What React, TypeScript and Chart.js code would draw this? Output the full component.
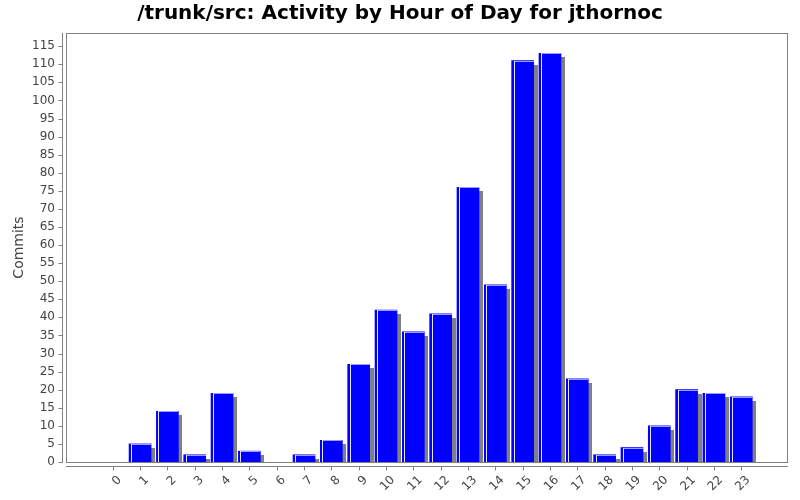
import React, { useEffect, useRef } from "react";
import { Chart, registerables } from "chart.js";

Chart.register(...registerables);

const hours: number[] = [0, 1, 2, 3, 4, 5, 6, 7, 8, 9, 10, 11, 12, 13, 14, 15, 16, 17, 18, 19, 20, 21, 22, 23];
const commits: number[] = [0, 5, 14, 2, 19, 3, 0, 2, 6, 27, 42, 36, 41, 76, 49, 111, 113, 23, 2, 4, 10, 20, 19, 18];
const yTickValues: number[] = [0, 5, 10, 15, 20, 25, 30, 35, 40, 45, 50, 55, 60, 65, 70, 75, 80, 85, 90, 95, 100, 105, 110, 115];

const TITLE = "/trunk/src: Activity by Hour of Day for jthornoc";
const Y_TITLE = "Commits";
const FONT = "'DejaVu Sans', sans-serif";

const decorPlugin = {
  id: "decor",
  beforeDatasetsDraw(chart: any) {
    const ctx = chart.ctx;
    const meta = chart.getDatasetMeta(0);
    ctx.save();
    ctx.fillStyle = "#808080";
    meta.data.forEach((bar: any) => {
      const p = bar.getProps(["x", "y", "base", "width"], true);
      const h = p.base - p.y - 4;
      if (h >= 1) {
        ctx.fillRect(Math.round(p.x - p.width / 2 + 4), Math.round(p.y + 4), Math.round(p.width), Math.round(h));
      }
    });
    ctx.restore();
  },
  afterDatasetsDraw(chart: any) {
    const ctx = chart.ctx;
    const meta = chart.getDatasetMeta(0);
    ctx.save();
    meta.data.forEach((bar: any) => {
      const p = bar.getProps(["x", "y", "base", "width"], true);
      const h = p.base - p.y;
      if (h >= 1) {
        const left = Math.round(p.x - p.width / 2);
        ctx.fillStyle = "#e6e6ff";
        ctx.fillRect(left + 2, Math.round(p.y), 1, Math.round(h));
        ctx.fillStyle = "#9a9aff";
        ctx.fillRect(left + 3, Math.round(p.y), Math.round(p.width) - 3, 1);
      }
    });
    ctx.restore();
  },
  afterDraw(chart: any) {
    const ctx = chart.ctx;
    const a = chart.chartArea;
    const xs = chart.scales.x;
    const ys = chart.scales.y;
    ctx.save();
    ctx.strokeStyle = "#808080";
    ctx.lineWidth = 1;
    ctx.strokeRect(Math.round(a.left) + 0.5, Math.round(a.top) + 0.5, Math.round(a.right - a.left) - 1, Math.round(a.bottom - a.top));
    const yx = Math.round(a.left) - 4 + 0.5;
    ctx.beginPath();
    ctx.moveTo(yx, Math.round(a.top));
    ctx.lineTo(yx, Math.round(a.bottom) + 1);
    yTickValues.forEach((v) => {
      const py = Math.round(ys.getPixelForValue(v)) + 0.5;
      ctx.moveTo(yx - 4, py);
      ctx.lineTo(yx, py);
    });
    const xy = Math.round(a.bottom) + 4 + 0.5;
    ctx.moveTo(Math.round(a.left), xy);
    ctx.lineTo(Math.round(a.right), xy);
    hours.forEach((v) => {
      const px = Math.round(xs.getPixelForValue(v)) + 0.5;
      ctx.moveTo(px, xy);
      ctx.lineTo(px, xy + 4);
    });
    ctx.stroke();
    ctx.restore();
  },
};

export default function App() {
  const ref = useRef<HTMLCanvasElement | null>(null);
  useEffect(() => {
    if (!ref.current) return;
    const chart = new Chart(ref.current, {
      type: "bar",
      data: {
        datasets: [
          {
            label: Y_TITLE,
            data: hours.map((h, i) => ({ x: h, y: commits[i] === 0 ? null : commits[i] })),
            backgroundColor: "#0000ff",
            borderWidth: 0,
            barThickness: 22,
          },
        ],
      },
      options: {
        responsive: false,
        animation: false,
        devicePixelRatio: 1,
        layout: { padding: 0 },
        plugins: {
          legend: { display: false },
          tooltip: { enabled: false },
          title: {
            display: true,
            text: TITLE,
            color: "#000000",
            font: { family: FONT, size: 20, weight: "bold" },
            padding: { top: 2, bottom: 7 },
          },
        },
        scales: {
          x: {
            type: "linear",
            offset: false,
            min: -1.71,
            max: 24.71,
            afterBuildTicks: (s: any) => {
              s.ticks = hours.map((v) => ({ value: v }));
            },
            afterFit: (s: any) => {
              s.height = 38;
            },
            grid: { display: false, drawTicks: false, offset: false },
            border: { display: false },
            ticks: {
              autoSkip: false,
              minRotation: 45,
              maxRotation: 45,
              padding: 11,
              labelOffset: 7,
              color: "#444444",
              font: { family: FONT, size: 12 },
              callback: (v: any) => String(v),
            },
          },
          y: {
            min: 0,
            max: 118.65,
            afterBuildTicks: (s: any) => {
              s.ticks = yTickValues.map((v) => ({ value: v }));
            },
            afterFit: (s: any) => {
              s.width = 66;
            },
            grid: { display: false, drawTicks: false },
            border: { display: false },
            ticks: {
              padding: 11,
              color: "#444444",
              font: { family: FONT, size: 12 },
            },
            title: {
              display: true,
              text: Y_TITLE,
              color: "#444444",
              font: { family: FONT, size: 14 },
              padding: { top: 11, bottom: 0 },
            },
          },
          rightSpace: {
            type: "linear",
            position: "right",
            min: 0,
            max: 1,
            afterFit: (s: any) => {
              s.width = 12;
            },
            grid: { display: false, drawTicks: false },
            border: { display: false },
            ticks: { display: false },
          },
        },
      },
      plugins: [decorPlugin],
    });
    return () => chart.destroy();
  }, []);
  return (
    <div style={{ position: "fixed", left: 0, top: 0, width: 800, height: 500, background: "#ffffff" }}>
      <canvas ref={ref} width={800} height={500} />
    </div>
  );
}
